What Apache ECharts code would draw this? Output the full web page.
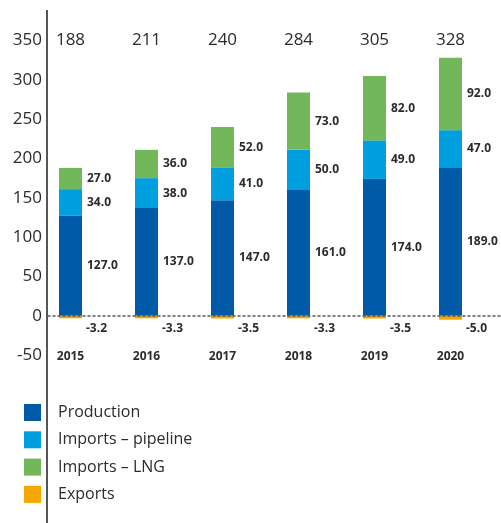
<!DOCTYPE html>
<html><head><meta charset="utf-8">
<script src="https://cdn.jsdelivr.net/npm/echarts@6/dist/echarts.min.js"></script>
<style>html,body{margin:0;padding:0;background:#fff}#c{width:501px;height:523px}</style>
</head><body><div id="c"></div>
<script>
var years = ['2015','2016','2017','2018','2019','2020'];
var production = [127, 137, 147, 161, 174, 189];
var pipeline = [34, 38, 41, 50, 49, 47];
var lng = [27, 36, 52, 73, 82, 92];
var exportsV = [-3.2, -3.3, -3.5, -3.3, -3.5, -5.0];
var totals = [188, 211, 240, 284, 305, 328];
var totalRow = [350, 350, 350, 350, 350, 350];
var yTicks = {min: -50, max: 350, interval: 50};

var FONT = 'Open Sans';
var TXT = '#2b2b2b';
var colors = {prod:'#005AA8', pipe:'#009FE0', lng:'#72B85B', exp:'#F5A700'};

var chart = echarts.init(document.getElementById('c'), null, {renderer:'canvas'});
var segLabel = {show:true, position:'right', distance:5, color:TXT, fontFamily:FONT, fontWeight:'bold', fontSize:12,
  formatter:function(p){return p.value.toFixed(1);}};
function bar(name, data, color, label){
  return {name:name, type:'bar', stack:'s', data:data, barWidth:23, xAxisIndex:0, yAxisIndex:0,
    itemStyle:{color:color}, label:label, emphasis:{disabled:true}};
}
chart.setOption({
  animation:false,
  textStyle:{fontFamily:FONT},
  grid:[
    {left:32.5, width:456, top:40.5, bottom:167.9},
    {left:48, right:0, top:40.5, bottom:167.9}
  ],
  xAxis:[
    {type:'category', gridIndex:0, data:years, axisLine:{show:false, onZero:false}, axisTick:{show:false},
     axisLabel:{margin:1, verticalAlign:'middle', color:TXT, fontFamily:FONT, fontWeight:'bold', fontSize:12}},
    {type:'category', gridIndex:1, data:[''], z:10, axisLine:{show:true, onZero:true, lineStyle:{color:'#555', width:1.5, type:[2,3]}},
     axisTick:{show:false}, axisLabel:{show:false}}
  ],
  yAxis:[
    {type:'value', gridIndex:0, min:yTicks.min, max:yTicks.max, interval:yTicks.interval, offset:-14.5,
     axisLine:{show:false}, axisTick:{show:false}, splitLine:{show:false},
     axisLabel:{margin:5, color:TXT, fontFamily:FONT, fontSize:17}},
    {type:'value', gridIndex:1, min:yTicks.min, max:yTicks.max, show:false, splitLine:{show:false}}
  ],
  legend:{orient:'vertical', left:19, top:399, itemWidth:17, itemHeight:17, itemGap:10.3, icon:'rect',
    data:['Production','Imports – pipeline','Imports – LNG','Exports'],
    textStyle:{color:TXT, fontFamily:FONT, fontSize:16, padding:[0,0,0,12]}},
  graphic:[{type:'rect', shape:{x:46, y:10, width:2, height:520}, style:{fill:'#555'}, z:20}],
  series:[
    bar('Production', production, colors.prod, segLabel),
    bar('Imports – pipeline', pipeline, colors.pipe, segLabel),
    bar('Imports – LNG', lng, colors.lng, segLabel),
    bar('Exports', exportsV, colors.exp, {show:true, position:[27,13], verticalAlign:'middle', color:TXT,
      fontFamily:FONT, fontWeight:'bold', fontSize:12, formatter:function(p){return p.value.toFixed(1);}}),
    {type:'scatter', name:'total', data:totalRow, symbolSize:0, xAxisIndex:0, yAxisIndex:0, silent:true,
     itemStyle:{opacity:1},
     label:{show:true, position:'inside', color:TXT, fontFamily:FONT, fontSize:17,
       formatter:function(p){return String(totals[p.dataIndex]);}}}
  ]
});
</script></body></html>
